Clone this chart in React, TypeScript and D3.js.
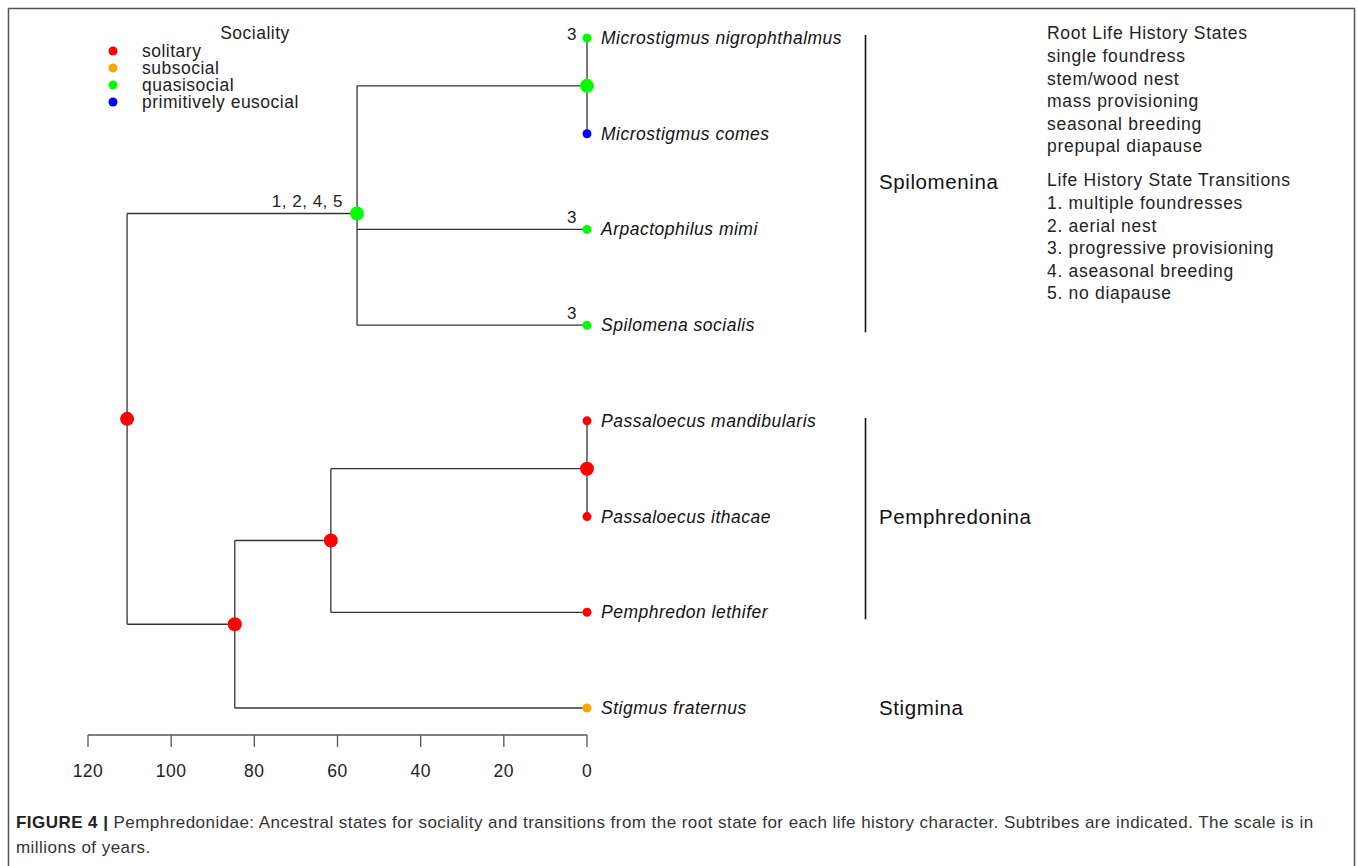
import React from "react";
import * as d3 from "d3";

// ---- Data ----
const tipNames = [
  "Microstigmus nigrophthalmus",
  "Microstigmus comes",
  "Arpactophilus mimi",
  "Spilomena socialis",
  "Passaloecus mandibularis",
  "Passaloecus ithacae",
  "Pemphredon lethifer",
  "Stigmus fraternus",
];
const tipStates = [
  "quasisocial",
  "primitively eusocial",
  "quasisocial",
  "quasisocial",
  "solitary",
  "solitary",
  "solitary",
  "subsocial",
];
const tipParents = ["micro", "micro", "spil", "spil", "pass", "pass", "pem", "pemStig"];
const tipTransitions = ["3", "", "3", "3", "", "", "", ""];

const nodeIds = ["root", "spil", "micro", "pemStig", "pem", "pass"];
const nodeParents = ["", "root", "spil", "root", "pemStig", "pem"];
const nodeAges = [110.6, 55.3, 0, 84.7, 61.6, 0];
const nodeStates = ["solitary", "quasisocial", "quasisocial", "solitary", "solitary", "solitary"];
const nodeTransitions = ["", "1, 2, 4, 5", "", "", "", ""];

const stateNames = ["solitary", "subsocial", "quasisocial", "primitively eusocial"];
const stateColors = ["#FF0000", "#FFA500", "#00FF00", "#0000FF"];

const subtribes = ["Spilomenina", "Pemphredonina", "Stigmina"];
const subtribeFirst = [0, 4, 7];
const subtribeLast = [3, 6, 7];

const axisTicks = [120, 100, 80, 60, 40, 20, 0];

const rootStatesTitle = "Root Life History States";
const rootStates = [
  "single foundress",
  "stem/wood nest",
  "mass provisioning",
  "seasonal breeding",
  "prepupal diapause",
];
const transitionsTitle = "Life History State Transitions";
const transitionsList = [
  "1. multiple foundresses",
  "2. aerial nest",
  "3. progressive provisioning",
  "4. aseasonal breeding",
  "5. no diapause",
];

const FONT = "'Liberation Sans', Arial, Helvetica, sans-serif";

export default function App() {
  const x = d3.scaleLinear().domain([120, 0]).range([88, 587]);
  const y = d3.scalePoint<string>().domain(tipNames).range([38, 708]);
  const color = d3.scaleOrdinal<string, string>().domain(stateNames).range(stateColors);

  type Row = { id: string; parentId: string | null; age: number; state: string; trans: string; tip: boolean };
  const rows: Row[] = [
    ...nodeIds.map((id, i) => ({
      id,
      parentId: nodeParents[i] || null,
      age: nodeAges[i],
      state: nodeStates[i],
      trans: nodeTransitions[i],
      tip: false,
    })),
    ...tipNames.map((id, i) => ({
      id,
      parentId: tipParents[i],
      age: 0,
      state: tipStates[i],
      trans: tipTransitions[i],
      tip: true,
    })),
  ];
  const root = d3
    .stratify<Row>()
    .id((d) => d.id)
    .parentId((d) => d.parentId)(rows);
  const tipIndex = (n: d3.HierarchyNode<Row>): number =>
    n.children ? d3.min(n.children, tipIndex)! : tipNames.indexOf(n.data.id);
  root.sort((a, b) => tipIndex(a) - tipIndex(b));

  const ypos = new Map<string, number>();
  root.eachAfter((n) => {
    if (!n.children) ypos.set(n.data.id, y(n.data.id)!);
    else ypos.set(n.data.id, d3.mean(n.children, (c) => ypos.get(c.data.id)!)!);
  });

  const lines: { x1: number; y1: number; x2: number; y2: number }[] = [];
  root.each((n) => {
    if (n.children) {
      const px = x(n.data.age);
      const ys = n.children.map((c) => ypos.get(c.data.id)!);
      lines.push({ x1: px, y1: d3.min(ys)!, x2: px, y2: d3.max(ys)! });
      n.children.forEach((c) => {
        const cy = ypos.get(c.data.id)!;
        if (x(c.data.age) !== px) lines.push({ x1: px, y1: cy, x2: x(c.data.age), y2: cy });
      });
    }
  });
  const allNodes = root.descendants();

  const legendY = d3.scalePoint<string>().domain(stateNames).range([51, 102]);

  return (
    <svg
      width={1358}
      height={866}
      style={{ position: "absolute", left: 0, top: 0, display: "block", background: "#fff" }}
      fontFamily={FONT}
    >
      <rect x={8.5} y={8.5} width={1346} height={900} fill="none" stroke="#555" strokeWidth={1.5} />

      {/* Legend */}
      <text x={255} y={39} fontSize={17.5} letterSpacing={0.5} textAnchor="middle" fill="#222">
        Sociality
      </text>
      {stateNames.map((s) => (
        <g key={s}>
          <circle cx={113} cy={legendY(s)!} r={4.5} fill={color(s)} />
          <text x={142} y={legendY(s)! + 6} fontSize={17.5} letterSpacing={0.5} fill="#222">
            {s}
          </text>
        </g>
      ))}

      {/* Tree */}
      {lines.map((l, i) => (
        <line key={i} x1={l.x1} y1={l.y1} x2={l.x2} y2={l.y2} stroke="#333" strokeWidth={1.3} />
      ))}
      {allNodes.map((n) => {
        const cx = x(n.data.age);
        const cy = ypos.get(n.data.id)!;
        const hasBranch = n.parent ? x(n.parent.data.age) !== cx : true;
        return (
          <g key={n.data.id}>
            <circle cx={cx} cy={cy} r={n.data.tip ? 4.5 : 7} fill={color(n.data.state)} />
            {n.data.trans && (
              <text
                x={cx - (n.data.tip ? 10 : 14)}
                y={cy + (n.data.tip ? (hasBranch ? -6 : 2) : -6)}
                fontSize={17}
                letterSpacing={0.5}
                textAnchor="end"
                fill="#222"
              >
                {n.data.trans}
              </text>
            )}
            {n.data.tip && (
              <text x={cx + 14} y={cy + 6} fontSize={17.5} letterSpacing={0.5} fontStyle="italic" fill="#111">
                {n.data.id}
              </text>
            )}
          </g>
        );
      })}

      {/* Subtribes */}
      {subtribes.map((s, i) => {
        const y1 = y(tipNames[subtribeFirst[i]])! - 3;
        const y2 = y(tipNames[subtribeLast[i]])! + 7;
        const mid = (y(tipNames[subtribeFirst[i]])! + y(tipNames[subtribeLast[i]])!) / 2;
        return (
          <g key={s}>
            {subtribeFirst[i] !== subtribeLast[i] && (
              <line x1={865.5} x2={865.5} y1={y1} y2={y2} stroke="#111" strokeWidth={1.6} />
            )}
            <text x={879} y={mid + 7} fontSize={20.5} letterSpacing={0.6} fill="#111">
              {s}
            </text>
          </g>
        );
      })}

      {/* Right text */}
      <g fontSize={17.5} letterSpacing={0.7} fill="#222">
        <text x={1047} y={39}>{rootStatesTitle}</text>
        {rootStates.map((t, i) => (
          <text key={t} x={1047} y={62 + i * 22.6}>
            {t}
          </text>
        ))}
        <text x={1047} y={186}>{transitionsTitle}</text>
        {transitionsList.map((t, i) => (
          <text key={t} x={1047} y={209 + i * 22.6}>
            {t}
          </text>
        ))}
      </g>

      {/* Axis */}
      <g>
        <line x1={x(120)} x2={x(0)} y1={735} y2={735} stroke="#555" strokeWidth={1.5} />
        {axisTicks.map((t) => (
          <g key={t}>
            <line x1={x(t)} x2={x(t)} y1={735} y2={747} stroke="#555" strokeWidth={1.3} />
            <text x={x(t)} y={777} fontSize={17.5} letterSpacing={0.5} textAnchor="middle" fill="#222">
              {t}
            </text>
          </g>
        ))}
      </g>

      {/* Caption */}
      <text x={16} y={828} fontSize={17} letterSpacing={0.45} fill="#333">
        <tspan fontWeight="bold" fill="#222">FIGURE 4 | </tspan>
        <tspan>
          Pemphredonidae: Ancestral states for sociality and transitions from the root state for each life history
          character. Subtribes are indicated. The scale is in
        </tspan>
      </text>
      <text x={16} y={853} fontSize={17} letterSpacing={0.45} fill="#333">
        millions of years.
      </text>
    </svg>
  );
}
